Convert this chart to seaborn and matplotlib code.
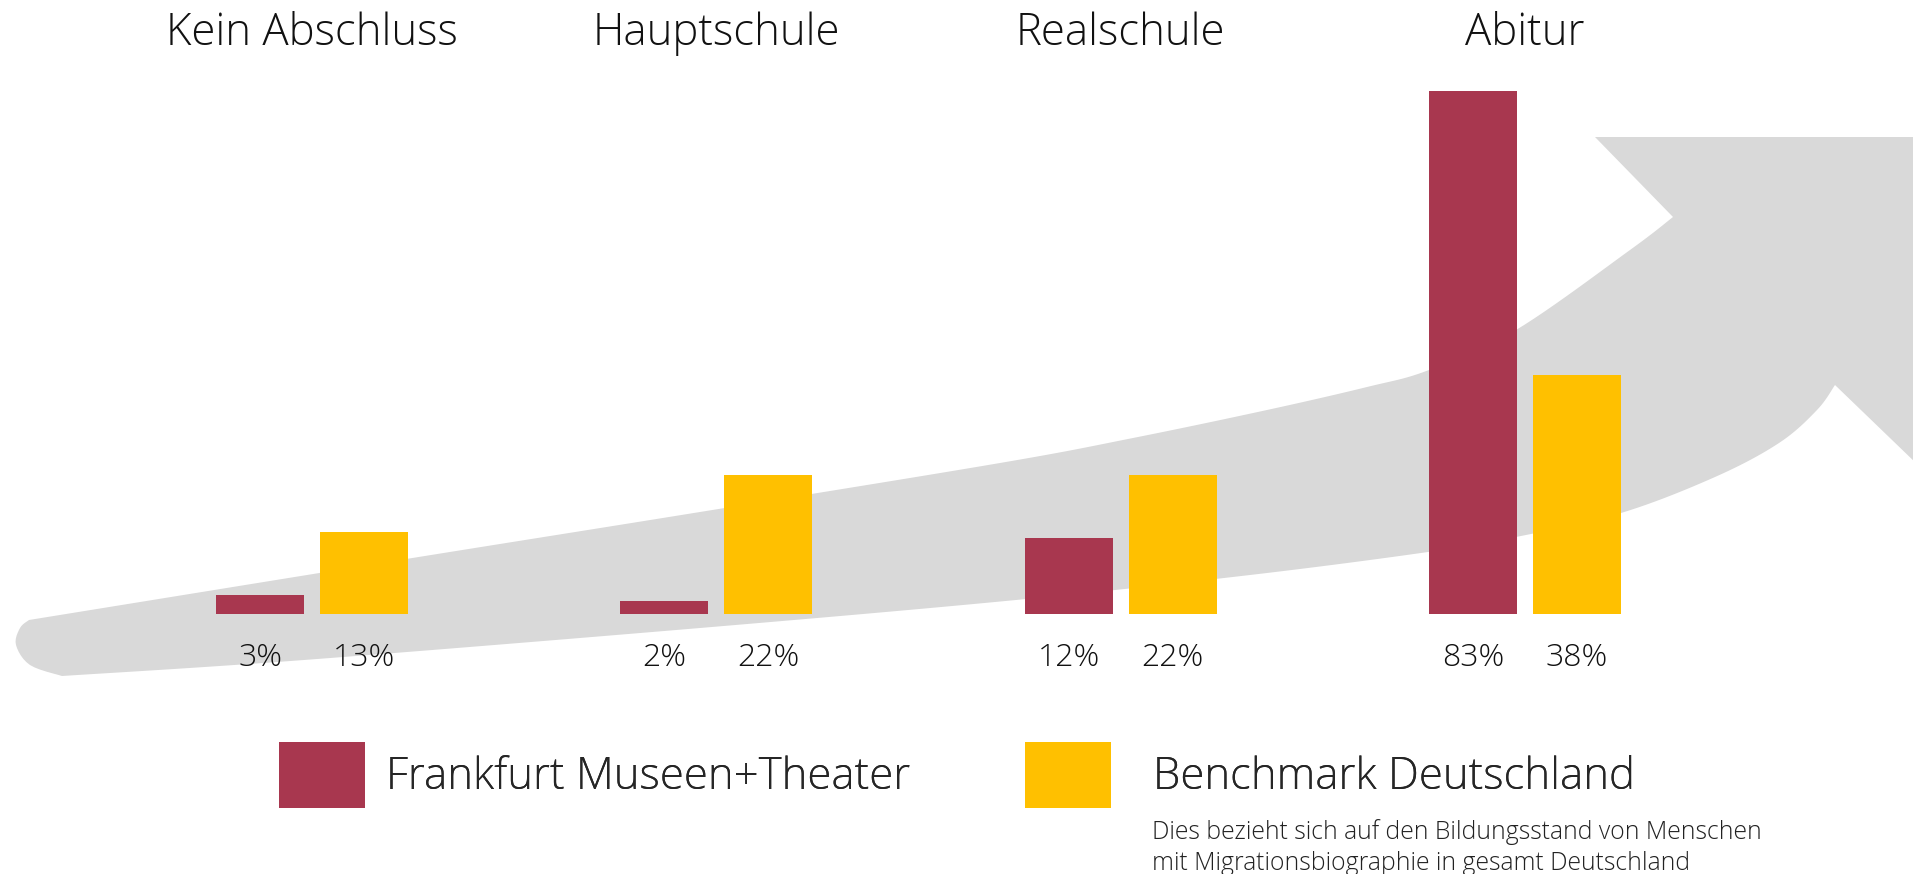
import numpy as np
import pandas as pd
import matplotlib
matplotlib.use('Agg')
import matplotlib.pyplot as plt
import matplotlib.transforms as mtransforms
from matplotlib.patches import Polygon
import seaborn as sns

# Daten
categories = ['Kein Abschluss', 'Hauptschule', 'Realschule', 'Abitur']
series = ['Frankfurt Museen+Theater', 'Benchmark Deutschland']
frankfurt = [3, 2, 12, 83]
benchmark = [13, 22, 22, 38]
note = ('Dies bezieht sich auf den Bildungsstand von Menschen\n'
        'mit Migrationsbiographie in gesamt Deutschland')

df = pd.DataFrame({
    'Abschluss': categories * 2,
    'Gruppe': [series[0]] * len(categories) + [series[1]] * len(categories),
    'Anteil': frankfurt + benchmark,
})

red = '#A8374F'
yellow = '#FFC000'
grey = '#D9D9D9'

sns.set_style('white')
plt.rcParams['font.family'] = ['Open Sans', 'DejaVu Sans']
plt.rcParams['font.weight'] = 'light'

W, H = 1913, 874
fig = plt.figure(figsize=(W / 100, H / 100), dpi=100)

# Hintergrund-Pfeil (Pixelkoordinaten)
bg = fig.add_axes([0, 0, 1, 1])
bg.set_xlim(0, W)
bg.set_ylim(H, 0)
bg.axis('off')


def smooth(pts, n=12):
    pts = np.asarray(pts, float)
    p = np.vstack([pts[0], pts, pts[-1]])
    out = []
    for i in range(1, len(p) - 2):
        p0, p1, p2, p3 = p[i - 1], p[i], p[i + 1], p[i + 2]
        for t in np.linspace(0, 1, n, endpoint=False):
            out.append(0.5 * ((2 * p1) + (-p0 + p2) * t
                              + (2 * p0 - 5 * p1 + 4 * p2 - p3) * t ** 2
                              + (-p0 + 3 * p1 - 3 * p2 + p3) * t ** 3))
    out.append(pts[-1])
    return np.array(out)


upper = smooth([(29, 620), (400, 560), (700, 512), (1000, 463), (1133, 438),
                (1267, 410), (1367, 387), (1429, 370), (1516, 330),
                (1630, 250), (1673, 217)])
lower = smooth([(1835, 385), (1817, 410), (1779, 443), (1715, 477),
                (1621, 513), (1516, 537), (1428, 552), (1250, 575),
                (1016, 600), (700, 628), (304, 660), (62, 676)])
tail = smooth([(62, 676), (30, 665), (16, 645), (20, 628), (29, 620)], n=6)
outline = np.vstack([upper, [(1595, 137), (W + 5, 137), (W + 5, 465)],
                     lower, tail])
bg.add_patch(Polygon(outline, closed=True, facecolor=grey, edgecolor='none'))

# Balken
px_per_pct = 6.3
ax_h = 90 * px_per_pct
ax = fig.add_axes([110 / W, (H - 614) / H, 1617 / W, ax_h / H])
ax.patch.set_alpha(0)
sns.barplot(data=df, x='Abschluss', y='Anteil', hue='Gruppe',
            palette=[red, yellow], saturation=1, width=0.514, gap=0.154,
            linewidth=0, legend=False, ax=ax)
ax.set_xlim(-0.5, 3.5)
ax.set_ylim(0, 90)
ax.axis('off')

# Prozentwerte unter den Balken
for container, vals in zip(ax.containers, [frankfurt, benchmark]):
    for bar, v in zip(container, vals):
        ax.annotate(f'{v}%', xy=(bar.get_x() + bar.get_width() / 2, 0),
                    xytext=(0, -44), textcoords='offset pixels',
                    ha='center', va='center', fontsize=23, color='#111111')

# Kategorien oben
trans = mtransforms.blended_transform_factory(ax.transData, fig.transFigure)
for i, c in enumerate(categories):
    ax.text(i, 1 - 34 / H, c, transform=trans, ha='center', va='center',
            fontsize=31.5, color='#111111')

# Legende (zwei Einträge, einzeln platziert)
legend_x = [279, 1025]
text_pad = [0.48, 0.95]
for name, color, lx, pad in zip(series, [red, yellow], legend_x, text_pad):
    leg = fig.legend([plt.Rectangle((0, 0), 1, 1, color=color, linewidth=0)],
                     [name], loc='upper left',
                     bbox_to_anchor=(lx / W, 1 - 742 / H), frameon=False,
                     fontsize=31.5, handlelength=1.97, handleheight=1.95,
                     handletextpad=pad, borderpad=0, borderaxespad=0)
    fig.add_artist(leg)

fig.text(1152 / W, 1 - 819 / H, note, ha='left', va='top', fontsize=17.8,
         linespacing=1.3, color='#222222')

fig.savefig('out.png', dpi=100)
